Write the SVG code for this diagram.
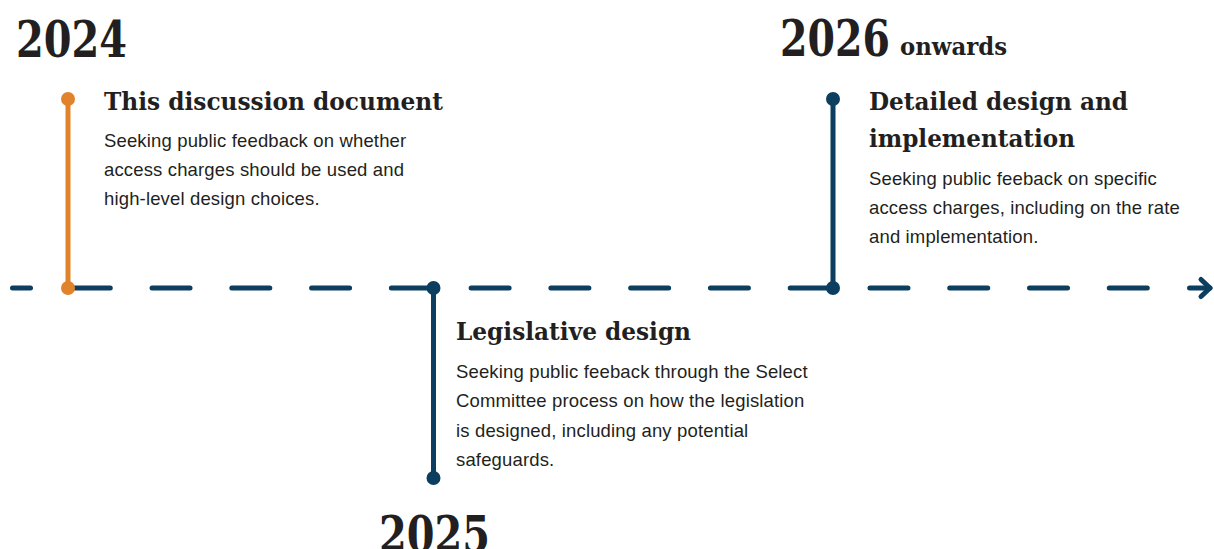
<svg xmlns="http://www.w3.org/2000/svg" width="1214" height="549" viewBox="0 0 1214 549">
  <style>
    .year { font-family: "DejaVu Serif", "Liberation Serif", serif; font-weight: bold; font-size: 50px; fill: #231f20; }
    .small-year { font-family: "DejaVu Serif", "Liberation Serif", serif; font-weight: bold; font-size: 24px; fill: #231f20; }
    .head { font-family: "DejaVu Serif", "Liberation Serif", serif; font-weight: bold; font-size: 25px; fill: #231f20; }
    .body { font-family: "Liberation Sans", Arial, sans-serif; font-size: 18.5px; letter-spacing: 0.15px; fill: #231f20; }
    .navy { stroke: #0c3e5f; stroke-width: 5; stroke-linecap: round; fill: none; }
    .orange { stroke: #e0832b; stroke-width: 5; stroke-linecap: round; fill: none; }
    .dot-navy { fill: #0c3e5f; }
    .dot-orange { fill: #e0832b; }
  </style>
  <rect width="1214" height="549" fill="#ffffff"/>

  <!-- timeline axis and stems -->
  <g id="connectors">
    <line class="navy" x1="12.5" y1="288" x2="1152" y2="288" stroke-dasharray="38 41.77" stroke-dashoffset="20"/>
    <line class="navy" x1="1189.5" y1="288" x2="1210" y2="288"/>
    <polyline class="navy" points="1201,279.5 1210,288 1201,296.5" stroke-linejoin="round"/>
    <line class="orange" x1="68" y1="99" x2="68" y2="288"/>
    <line class="navy" x1="433.5" y1="288" x2="433.5" y2="478"/>
    <line class="navy" x1="833" y1="99" x2="833" y2="288"/>
  </g>

  <g id="node-2024">
    <circle class="dot-orange" cx="68" cy="99" r="7"/>
    <circle class="dot-orange" cx="68" cy="288" r="7"/>
    <text class="year" x="16" y="57" textLength="111" lengthAdjust="spacingAndGlyphs">2024</text>
    <text class="head" x="104" y="110" textLength="339" lengthAdjust="spacingAndGlyphs">This discussion document</text>
    <text class="body" x="104" y="147">Seeking public feedback on whether</text>
    <text class="body" x="104" y="176">access charges should be used and</text>
    <text class="body" x="104" y="205">high-level design choices.</text>
  </g>

  <g id="node-2025">
    <circle class="dot-navy" cx="433.5" cy="288" r="7"/>
    <circle class="dot-navy" cx="433.5" cy="478" r="7"/>
    <text class="head" x="456" y="340" textLength="235" lengthAdjust="spacingAndGlyphs">Legislative design</text>
    <text class="body" x="456" y="378">Seeking public feeback through the Select</text>
    <text class="body" x="456" y="407">Committee process on how the legislation</text>
    <text class="body" x="456" y="436.5">is designed, including any potential</text>
    <text class="body" x="456" y="466">safeguards.</text>
    <text class="year" x="379" y="552" textLength="111" lengthAdjust="spacingAndGlyphs">2025</text>
  </g>

  <g id="node-2026">
    <circle class="dot-navy" cx="833" cy="99" r="7"/>
    <circle class="dot-navy" cx="833" cy="288" r="7"/>
    <text class="year" x="780" y="56" textLength="110" lengthAdjust="spacingAndGlyphs">2026</text>
    <text class="small-year" x="900" y="55" textLength="107" lengthAdjust="spacingAndGlyphs">onwards</text>
    <text class="head" x="869" y="110" textLength="259" lengthAdjust="spacingAndGlyphs">Detailed design and</text>
    <text class="head" x="869" y="147" textLength="206" lengthAdjust="spacingAndGlyphs">implementation</text>
    <text class="body" x="869" y="185">Seeking public feeback on specific</text>
    <text class="body" x="869" y="214">access charges, including on the rate</text>
    <text class="body" x="869" y="243">and implementation.</text>
  </g>
</svg>
